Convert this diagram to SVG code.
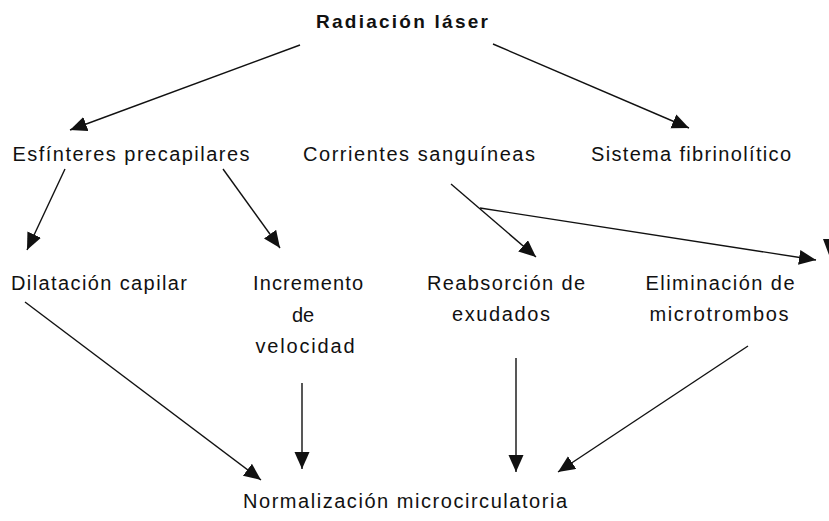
<svg xmlns="http://www.w3.org/2000/svg" width="829" height="521" viewBox="0 0 829 521">
<style>
text{font-family:"Liberation Sans",Arial,Helvetica,sans-serif;font-size:20px;fill:#111;text-anchor:middle}
.title{font-weight:bold;font-size:19px}
.conn line{stroke:#111;stroke-width:1.4;fill:none}
</style>
<defs>
<marker id="ah" markerUnits="userSpaceOnUse" markerWidth="20" markerHeight="18" refX="17" refY="7.5" orient="auto">
<path d="M0,0 L17,7.5 L0,15 z" fill="#111"/>
</marker>
</defs>
<rect width="829" height="521" fill="#fff"/>
<g id="radiacion"><text class="title" x="402" y="28" textLength="172" lengthAdjust="spacing">Radiación láser</text></g>
<g id="esfinteres"><text x="131" y="161" textLength="237" lengthAdjust="spacing">Esfínteres precapilares</text></g>
<g id="corrientes"><text x="419" y="161" textLength="232" lengthAdjust="spacing">Corrientes sanguíneas</text></g>
<g id="sistema"><text x="691" y="161" textLength="200" lengthAdjust="spacing">Sistema fibrinolítico</text></g>
<g id="dilatacion"><text x="99" y="290" textLength="176" lengthAdjust="spacing">Dilatación capilar</text></g>
<g id="incremento">
<text x="308" y="290" textLength="110" lengthAdjust="spacing">Incremento</text>
<text x="303" y="322">de</text>
<text x="305" y="353" textLength="99" lengthAdjust="spacing">velocidad</text>
</g>
<g id="reabsorcion">
<text x="506" y="290" textLength="158" lengthAdjust="spacing">Reabsorción de</text>
<text x="501" y="321" textLength="98" lengthAdjust="spacing">exudados</text>
</g>
<g id="eliminacion">
<text x="720" y="290" textLength="149" lengthAdjust="spacing">Eliminación de</text>
<text x="719" y="321" textLength="139" lengthAdjust="spacing">microtrombos</text>
</g>
<g id="normalizacion"><text x="405" y="508" textLength="324" lengthAdjust="spacing">Normalización microcirculatoria</text></g>
<g class="conn" id="connectors">
<line x1="300" y1="45" x2="70" y2="130" marker-end="url(#ah)"/>
<line x1="493" y1="44" x2="689" y2="128" marker-end="url(#ah)"/>
<line x1="65" y1="169" x2="27" y2="250" marker-end="url(#ah)"/>
<line x1="223" y1="169" x2="280" y2="248" marker-end="url(#ah)"/>
<line x1="451" y1="184" x2="536" y2="257" marker-end="url(#ah)"/>
<line x1="480" y1="208" x2="816" y2="260" marker-end="url(#ah)"/>
<line x1="25" y1="302" x2="261" y2="480" marker-end="url(#ah)"/>
<line x1="302" y1="383" x2="302" y2="469" marker-end="url(#ah)"/>
<line x1="516" y1="358" x2="516" y2="472" marker-end="url(#ah)"/>
<line x1="748" y1="346" x2="558" y2="472" marker-end="url(#ah)"/>
<polygon points="823,239 836,239 829,255" fill="#111" stroke="none"/>
</g>
</svg>
